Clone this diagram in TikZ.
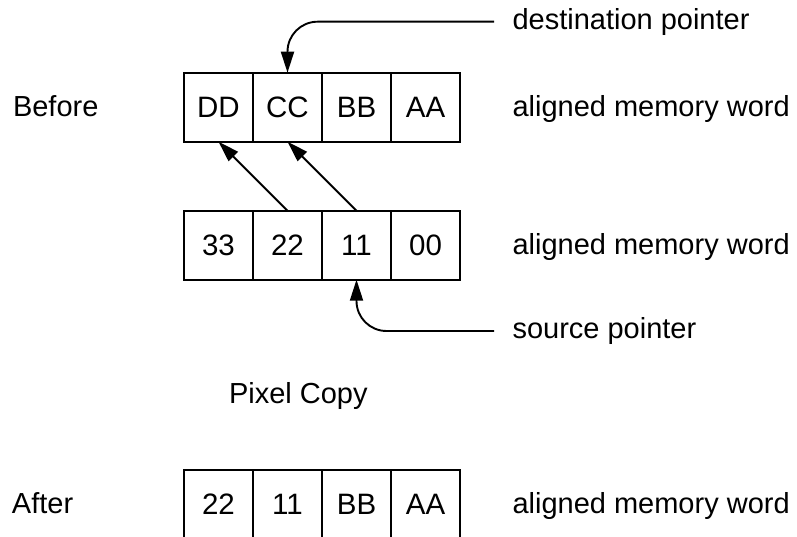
\documentclass[tikz,border=0pt]{standalone}
\usepackage{fontspec}
\setmainfont{Liberation Sans}
\usetikzlibrary{arrows.meta}
\tikzset{
  cell/.style={draw, line width=1.9pt, minimum width=69pt, minimum height=69pt, inner sep=0pt, outer sep=0pt, font=\fontsize{29.5}{34}\selectfont},
  lbl/.style={inner sep=0pt, outer sep=0pt, anchor=base west, font=\fontsize{29}{34}\selectfont},
  arr/.style={line width=1.9pt, -{Triangle[length=21pt,width=13pt]}},
}
\begin{document}
\begin{tikzpicture}[x=1pt,y=-1pt]
\useasboundingbox (0,0) rectangle (797,537);
\clip (0,0) rectangle (797,537);
% Before row
\node[cell] (b1) at (218.5,107.2) {DD};
\node[cell] (b2) at (287.5,107.2) {CC};
\node[cell] (b3) at (356.5,107.2) {BB};
\node[cell] (b4) at (425.5,107.2) {AA};
% source row
\node[cell] (m1) at (218.5,245.2) {33};
\node[cell] (m2) at (287.5,245.2) {22};
\node[cell] (m3) at (356.5,245.2) {11};
\node[cell] (m4) at (425.5,245.2) {00};
% After row
\node[cell] (a1) at (218.5,504.5) {22};
\node[cell] (a2) at (287.5,504.5) {11};
\node[cell] (a3) at (356.5,504.5) {BB};
\node[cell] (a4) at (425.5,504.5) {AA};
% labels
\node[lbl] (before) at (13,116.5) {Before};
\node[lbl] (after) at (12,513.3) {After};
\node[lbl] (pixcopy) at (229,403.5) {Pixel Copy};
\node[lbl] (w1) at (512.5,116.5) {aligned memory word};
\node[lbl] (w2) at (512.5,254.5) {aligned memory word};
\node[lbl] (w3) at (512.5,513.3) {aligned memory word};
\node[lbl] (dst) at (512.5,29.2) {destination pointer};
\node[lbl] (src) at (512.5,338.5) {source pointer};
% connectors
\coordinate (dstend) at (494,21.7);
\coordinate (srcend) at (494,331);
\draw[arr, rounded corners=30pt] (dstend) -| (b2.north);
\draw[arr, rounded corners=30pt] (srcend) -| (m3.south);
\draw[arr] (m2.north) -- (b1.south);
\draw[arr] (m3.north) -- (b2.south);
\end{tikzpicture}
\end{document}
